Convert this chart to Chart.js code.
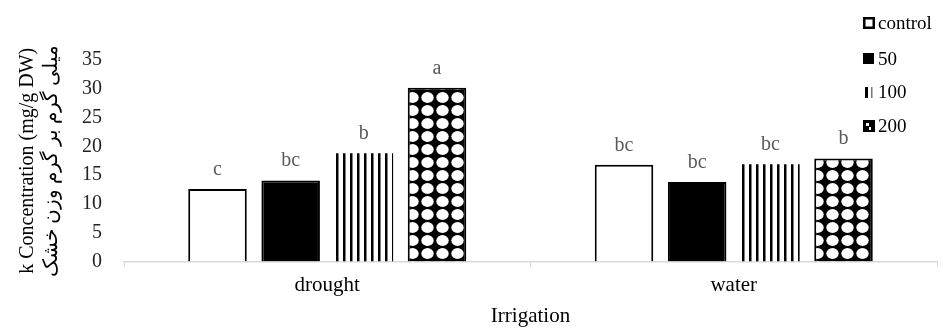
<!DOCTYPE html>
<html>
<head>
<meta charset="utf-8">
<script src="https://cdn.jsdelivr.net/npm/chart.js@4"></script>
<style>
  html, body { margin: 0; padding: 0; background: #fff; }
  #wrap { position: relative; width: 943px; height: 329px; }
</style>
</head>
<body>
<div id="wrap"><canvas id="k_chart"></canvas></div>
<script>
// data
var categories = ['drought', 'water'];
var series_names = ['control', '50', '100', '200'];
var control_vals = [12.6, 16.8];
var v50_vals = [14.1, 13.8];
var v100_vals = [18.8, 16.9];
var v200_vals = [30.2, 17.9];
var letters_control = ['c', 'bc'];
var letters_50 = ['bc', 'bc'];
var letters_100 = ['b', 'bc'];
var letters_200 = ['a', 'b'];
var y_ticks = [0, 5, 10, 15, 20, 25, 30, 35];

var serif = '"Liberation Serif", "Times New Roman", serif';

function stripe_pattern() {
    var c = document.createElement('canvas');
    c.width = 7; c.height = 7;
    var g = c.getContext('2d');
    g.fillStyle = '#fff';
    g.fillRect(0, 0, 7, 7);
    g.fillStyle = '#000';
    g.fillRect(0, 0, 2.5, 7);
    return g.createPattern(c, 'repeat');
}

function dot_pattern() {
    var c = document.createElement('canvas');
    c.width = 15; c.height = 13;
    var g = c.getContext('2d');
    g.fillStyle = '#000';
    g.fillRect(0, 0, 15, 13);
    g.fillStyle = '#fff';
    g.beginPath();
    g.ellipse(7.5, 6.5, 6.2, 5.4, 0, 0, Math.PI * 2);
    g.fill();
    return g.createPattern(c, 'repeat');
}

var fills = ['#ffffff', '#000000', stripe_pattern(), dot_pattern()];
var all_vals = [control_vals, v50_vals, v100_vals, v200_vals];
var all_letters = [letters_control, letters_50, letters_100, letters_200];

var datasets = [];
for (var i = 0; i < 4; i++) {
    datasets.push({
        label: series_names[i],
        data: all_vals[i],
        backgroundColor: fills[i],
        borderColor: '#000',
        borderWidth: i == 2 ? 0 : 2,
        letters: all_letters[i]
    });
}

var letters_plugin = {
    id: 'letters',
    afterDatasetsDraw: function(chart) {
        var ctx = chart.ctx;
        ctx.save();
        ctx.font = '20px ' + serif;
        ctx.fillStyle = '#595959';
        ctx.textAlign = 'center';
        ctx.textBaseline = 'alphabetic';
        chart.data.datasets.forEach(function(ds, di) {
            chart.getDatasetMeta(di).data.forEach(function(bar, j) {
                ctx.fillText(ds.letters[j], bar.x, bar.y - 14);
            });
        });
        ctx.restore();
    }
};

var legend_plugin = {
    id: 'side_legend',
    afterDraw: function(chart) {
        var ctx = chart.ctx;
        ctx.save();
        ctx.font = '19px ' + serif;
        ctx.textBaseline = 'middle';
        var ys = [23, 59, 92, 126];
        for (var i = 0; i < 4; i++) {
            var x = 863, y = ys[i];
            if (i == 0) {
                ctx.fillStyle = '#fff';
                ctx.fillRect(x, y - 6, 12, 12);
                ctx.strokeStyle = '#000';
                ctx.lineWidth = 2.5;
                ctx.strokeRect(x + 1.25, y - 4.75, 9.5, 9.5);
            } else if (i == 1) {
                ctx.fillStyle = '#000';
                ctx.fillRect(x, y - 6, 11, 11);
            } else if (i == 2) {
                ctx.fillStyle = '#000';
                ctx.fillRect(x + 2, y - 5, 3, 11);
                ctx.fillStyle = '#777';
                ctx.fillRect(x + 8, y - 5, 1.5, 11);
            } else {
                ctx.fillStyle = '#000';
                ctx.fillRect(x, y - 6, 12, 12);
                ctx.fillStyle = '#fff';
                ctx.fillRect(x + 3, y - 3, 3, 3);
                ctx.fillRect(x + 6, y + 1, 2, 3);
            }
            ctx.fillStyle = '#000';
            ctx.fillText(series_names[i], x + 15, y + 1);
        }
        ctx.restore();
    }
};

var k_chart = new Chart(document.getElementById('k_chart'), {
    type: 'bar',
    data: {
        labels: categories,
        datasets: datasets
    },
    options: {
        responsive: true,
        maintainAspectRatio: false,
        animation: false,
        categoryPercentage: 0.72,
        barPercentage: 0.8,
        layout: { padding: { top: 60, right: 6, left: 16, bottom: 0 } },
        plugins: {
            legend: { display: false },
            tooltip: { enabled: false }
        },
        scales: {
            x: {
                grid: {
                    display: true,
                    offset: true,
                    drawOnChartArea: false,
                    color: '#d9d9d9',
                    tickLength: 5
                },
                border: { color: '#d9d9d9', width: 1.5 },
                ticks: { color: '#000', font: { family: serif, size: 21 }, padding: 6 },
                title: {
                    display: true,
                    text: 'Irrigation',
                    color: '#000',
                    font: { family: serif, size: 21 },
                    padding: { top: 0, bottom: 0 }
                }
            },
            y: {
                min: 0,
                max: 35,
                afterBuildTicks: function(axis) {
                    axis.ticks = y_ticks.map(function(v) { return { value: v }; });
                },
                grid: { display: false },
                border: { display: false },
                ticks: { color: '#222', font: { family: serif, size: 20 }, padding: 14 },
                title: {
                    display: true,
                    text: ['k Concentration (mg/g DW)', 'میلی گرم بر گرم وزن خشک'],
                    color: '#000',
                    font: { family: serif, size: 20 },
                    padding: { top: 0, bottom: 4 }
                }
            }
        }
    },
    plugins: [letters_plugin, legend_plugin]
});
</script>
</body>
</html>
